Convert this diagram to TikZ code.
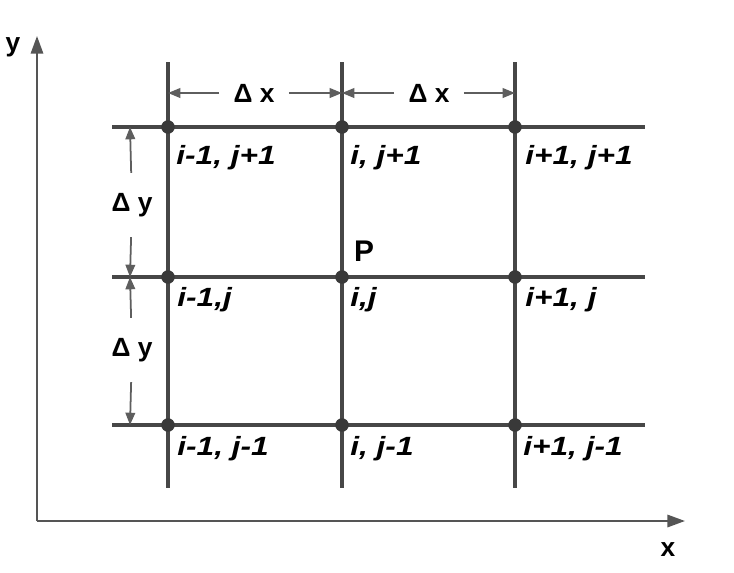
\documentclass[tikz,border=0pt]{standalone}
\usepackage{fontspec}
\setmainfont{Liberation Sans}
\newfontfamily\idxfont[FakeStretch=1.2]{Liberation Sans}
\usetikzlibrary{arrows.meta}

\definecolor{gridgray}{HTML}{474747}
\definecolor{axisgray}{HTML}{555555}
\definecolor{dimgray}{HTML}{5E5E5E}

\begin{document}
\begin{tikzpicture}[x=0.02cm, y=-0.02cm, >=Triangle,
  gridline/.style={line width=2.4pt, draw=gridgray},
  gridpt/.style={circle, fill=gridgray!80!black, inner sep=0pt, minimum size=0.27cm},
  axis/.style={-{Triangle[length=10pt,width=7pt]}, line width=1.2pt, draw=axisgray},
  dimline/.style={-{Triangle[length=7pt,width=5.5pt]}, line width=1pt, draw=dimgray},
  dimlbl/.style={font=\bfseries\fontsize{15}{16}\selectfont, inner xsep=0.28cm, inner ysep=0.4cm},
  idx/.style={font=\idxfont\bfseries\itshape\fontsize{15}{16}\selectfont, inner sep=0pt, anchor=north west}]

\useasboundingbox[fill=white] (0,0) rectangle (734,572);

% --- Axes ---
\coordinate (O) at (37,521);
\coordinate (xend) at (685,521);
\coordinate (yend) at (37,36);
\draw[axis] (O) -- (xend);
\draw[axis] (O) -- (yend);
\node[font=\bfseries\fontsize{15}{16}\selectfont] (xlbl) at (668,550) {x};
\node[font=\bfseries\fontsize{15}{16}\selectfont] (ylbl) at (13,47) {y};

% --- Grid lines ---
\coordinate (v1t) at (168,62);  \coordinate (v1b) at (168,488);
\coordinate (v2t) at (342,62);  \coordinate (v2b) at (342,488);
\coordinate (v3t) at (515,62);  \coordinate (v3b) at (515,488);
\coordinate (h3l) at (112,127); \coordinate (h3r) at (645,127);
\coordinate (h2l) at (112,277); \coordinate (h2r) at (645,277);
\coordinate (h1l) at (112,425); \coordinate (h1r) at (645,425);
\draw[gridline] (v1t) -- (v1b);
\draw[gridline] (v2t) -- (v2b);
\draw[gridline] (v3t) -- (v3b);
\draw[gridline] (h3l) -- (h3r);
\draw[gridline] (h2l) -- (h2r);
\draw[gridline] (h1l) -- (h1r);

% --- Grid points ---
\node[gridpt] (n13) at (168,127) {};
\node[gridpt] (n23) at (342,127) {};
\node[gridpt] (n33) at (515,127) {};
\node[gridpt] (n12) at (168,277) {};
\node[gridpt] (n22) at (342,277) {};
\node[gridpt] (n32) at (515,277) {};
\node[gridpt] (n11) at (168,425) {};
\node[gridpt] (n21) at (342,425) {};
\node[gridpt] (n31) at (515,425) {};

% Index labels
\node[idx] (l13) at (176,145) {i-1, j+1};
\node[idx] (l23) at (350,145) {i, j+1};
\node[idx] (l33) at (525,145) {i+1, j+1};
\node[idx] (l12) at (177,287) {i-1,j};
\node[idx] (l22) at (350,287) {i,j};
\node[idx] (l32) at (525,287) {i+1, j};
\node[idx] (l11) at (177,436) {i-1, j-1};
\node[idx] (l21) at (350,436) {i, j-1};
\node[idx] (l31) at (523,436) {i+1, j-1};
\node[font=\bfseries\fontsize{17}{18}\selectfont] (plbl) at (364,251) {P};

% --- Spacing dimensions ---
\coordinate (dxa) at (168,93);
\coordinate (dxb) at (342,93);
\coordinate (dxc) at (515,93);
\node[dimlbl] (dx1) at (254,93) {Δ x};
\node[dimlbl] (dx2) at (429,93) {Δ x};
\draw[dimline] (dx1) -- (dxa);
\draw[dimline] (dx1) -- (dxb);
\draw[dimline] (dx2) -- (dxb);
\draw[dimline] (dx2) -- (dxc);

\coordinate (dya) at (130,127);
\coordinate (dyb) at (130,277);
\coordinate (dyc) at (130,425);
\node[dimlbl] (dy1) at (132,205) {Δ y};
\node[dimlbl] (dy2) at (132,350) {Δ y};
\draw[dimline] (dy1) -- (dya);
\draw[dimline] (dy1) -- (dyb);
\draw[dimline] (dy2) -- (dyb);
\draw[dimline] (dy2) -- (dyc);

\end{tikzpicture}
\end{document}
